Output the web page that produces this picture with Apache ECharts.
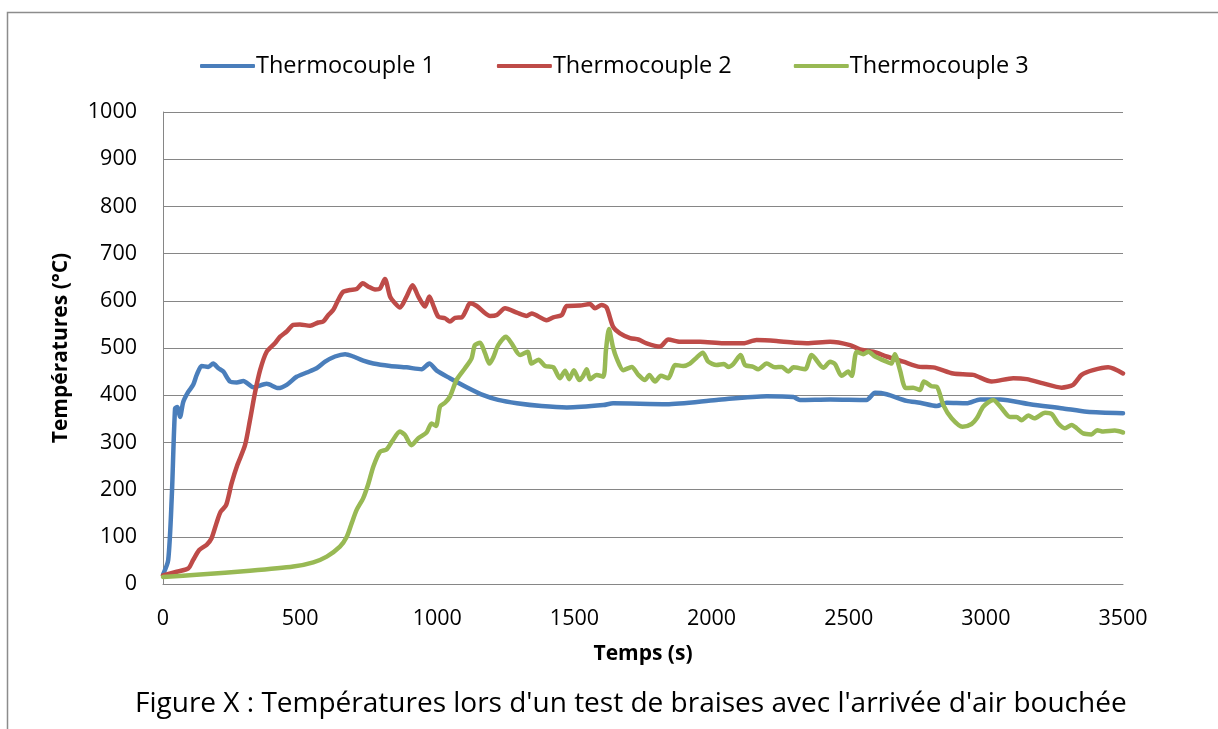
<!DOCTYPE html>
<html><head><meta charset="utf-8">
<script src="https://cdn.jsdelivr.net/npm/echarts@6/dist/echarts.min.js"></script>
<style>html,body{margin:0;padding:0;background:#fff}#c{width:1218px;height:729px}</style>
</head><body><div id="c"></div>
<script>
const seriesNames = ['Thermocouple 1', 'Thermocouple 2', 'Thermocouple 3'];
const xTicks = [0, 500, 1000, 1500, 2000, 2500, 3000, 3500];
const yTicks = [0, 100, 200, 300, 400, 500, 600, 700, 800, 900, 1000];

const t1 = [0,19,32,44,52,62,74,92,110,123,141,165,183,202,220,244,269,293,329,378,420,451,487,524,560,591,627,664,694,730,767,828,888,943,971,998,1046,1107,1168,1222,1290,1380,1472,1605,1641,1836,2018,2201,2298,2322,2432,2565,2596,2638,2711,2760,2821,2857,2930,2979,3052,3161,3282,3368,3500];
const v1 = [20,51,185,372,375,354,386,407,422,443,462,460,467,457,450,429,427,430,417,424,415,422,439,448,457,471,482,487,482,473,467,462,459,455,467,452,436,417,400,390,383,377,374,379,383,381,390,398,396,390,391,390,405,402,388,384,377,384,383,391,391,381,372,365,362];

const t2 = [0,50,92,110,132,159,177,195,210,230,250,271,299,317,335,354,378,408,427,451,475,499,536,566,584,603,621,639,657,682,706,728,749,773,791,809,828,846,864,888,910,931,955,971,985,1004,1028,1046,1065,1089,1105,1119,1144,1192,1217,1247,1290,1326,1344,1399,1423,1454,1472,1520,1557,1575,1599,1617,1641,1666,1703,1733,1763,1812,1842,1885,1958,2043,2116,2164,2237,2310,2347,2432,2505,2541,2590,2638,2699,2760,2808,2881,2954,3021,3100,3149,3209,3276,3318,3349,3391,3446,3500];
const v2 = [18,26,33,51,72,83,97,129,153,167,213,252,294,347,404,453,492,510,524,535,549,550,547,554,556,570,581,602,619,623,625,637,630,624,626,646,609,595,586,609,633,609,588,609,591,566,563,556,564,565,580,595,589,568,570,584,575,568,573,559,565,570,589,590,593,584,591,586,545,531,521,518,510,503,518,513,513,510,510,517,515,511,510,513,506,497,492,482,471,460,459,446,443,429,436,434,425,416,422,443,453,459,446];

const t3 = [0,135,317,475,548,597,645,670,688,706,730,749,767,791,815,834,864,882,906,931,961,979,995,1010,1028,1046,1070,1101,1125,1137,1156,1174,1190,1204,1222,1250,1271,1302,1329,1344,1369,1393,1423,1447,1466,1481,1498,1518,1530,1545,1557,1581,1605,1615,1626,1640,1654,1678,1709,1733,1757,1773,1794,1815,1842,1867,1897,1921,1946,1968,1988,2018,2045,2061,2079,2106,2122,2152,2170,2201,2231,2256,2280,2298,2341,2365,2408,2432,2450,2474,2498,2511,2529,2553,2571,2596,2638,2656,2668,2687,2708,2735,2760,2774,2802,2821,2845,2875,2915,2948,2967,2991,3027,3058,3088,3112,3130,3155,3176,3216,3240,3264,3288,3313,3331,3355,3385,3406,3428,3470,3500];
const v3 = [15,20,28,37,46,58,79,100,129,157,182,213,249,280,285,301,323,316,294,309,321,340,335,376,384,397,432,457,478,506,511,489,467,480,506,524,510,485,492,467,475,462,459,436,452,434,453,432,439,455,434,443,439,496,540,503,478,453,460,443,432,443,429,441,436,464,462,467,480,490,471,464,466,460,466,485,464,460,455,467,459,460,450,459,455,485,458,471,466,441,450,441,492,487,492,482,471,467,487,453,415,416,411,429,419,418,379,351,333,339,351,376,390,372,354,354,347,357,351,363,360,340,330,337,330,319,317,326,323,325,321];

const colors = ['#4a7ebb', '#be4b48', '#98b954'];
const FONT = '"Open Sans", Lato, sans-serif';
const zip = (t, v) => t.map((x, i) => [x, v[i]]);
const allData = [zip(t1, v1), zip(t2, v2), zip(t3, v3)];

const chart = echarts.init(document.getElementById('c'), null, {renderer: 'canvas'});
chart.setOption({
  animation: false,
  backgroundColor: '#fff',
  textStyle: {fontFamily: FONT},
  title: {
    text: "Figure X : Températures lors d'un test de braises avec l'arrivée d'air bouchée",
    left: 135, top: 690, padding: 0,
    textStyle: {fontFamily: FONT, fontSize: 28, fontWeight: 'normal', color: '#000'}
  },
  legend: {
    top: 49, left: 195,
    itemWidth: 55, itemHeight: 4, itemGap: 62,
    icon: 'roundRect',
    textStyle: {fontFamily: FONT, fontSize: 23.5, color: '#000', padding: [0, 0, 0, -4]},
    data: seriesNames
  },
  grid: {left: 163, right: 95, top: 112, bottom: 145, containLabel: false},
  xAxis: {
    type: 'value', min: 0, max: 3500, interval: 500,
    name: 'Temps (s)', nameLocation: 'middle', nameGap: 60,
    nameTextStyle: {fontFamily: FONT, fontSize: 21, fontWeight: 'bold', color: '#000'},
    axisLine: {lineStyle: {color: '#868686', width: 1}},
    axisTick: {show: false},
    axisLabel: {margin: 24, fontFamily: FONT, fontSize: 21.5, color: '#000',
      formatter: v => xTicks.includes(v) ? String(v) : ''},
    splitLine: {show: false}
  },
  yAxis: {
    type: 'value', min: 0, max: 1000, interval: 100,
    name: 'Températures (°C)', nameLocation: 'middle', nameGap: 91,
    nameTextStyle: {fontFamily: FONT, fontSize: 21, fontWeight: 'bold', color: '#000'},
    axisLine: {show: true, lineStyle: {color: '#868686', width: 1}},
    axisTick: {show: false},
    axisLabel: {margin: 26, fontFamily: FONT, fontSize: 21.5, color: '#000',
      formatter: v => yTicks.includes(v) ? String(v) : ''},
    splitLine: {lineStyle: {color: '#868686', width: 1}}
  },
  graphic: [{
    type: 'rect', shape: {x: 7.5, y: 12.5, width: 1230, height: 740},
    style: {fill: 'none', stroke: '#8c8c8c', lineWidth: 1.5}, silent: true, z: -1
  }],
  series: allData.map((d, i) => ({
    name: seriesNames[i], type: 'line', data: d,
    showSymbol: false, smooth: 0.25,
    lineStyle: {color: colors[i], width: 4.5, cap: 'round', join: 'round'},
    itemStyle: {color: colors[i]}
  }))
});
</script></body></html>
